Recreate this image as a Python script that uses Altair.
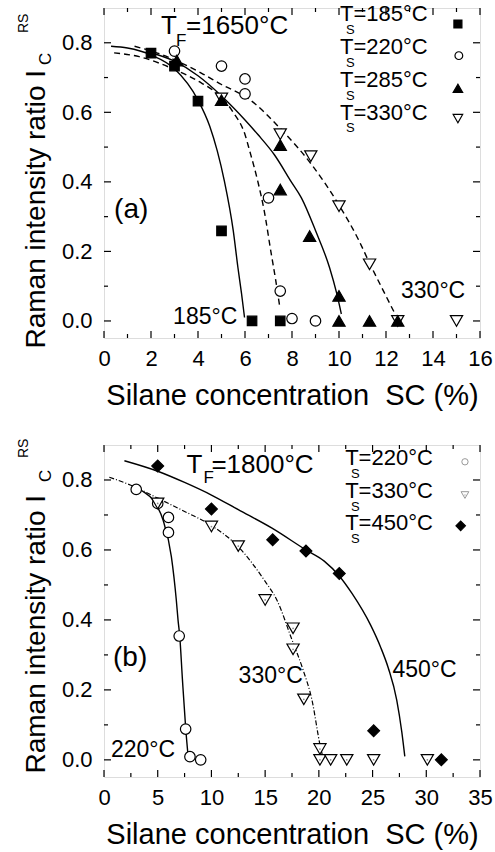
import altair as alt
import pandas as pd

FONT = "Liberation Sans"
W = 376
H_A = 330
H_B = 332

# ---------------- panel (a): T_F = 1650 °C ----------------
# measured intensity ratios per substrate temperature
a185_x = [2, 3, 4, 5, 6.3, 7.5]
a185_y = [0.770, 0.733, 0.632, 0.259, 0.0, 0.0]
a220_x = [3, 5, 6, 6, 7, 7.5, 8, 9]
a220_y = [0.776, 0.733, 0.696, 0.653, 0.354, 0.086, 0.007, 0.0]
a285_x = [3.1, 5, 7.5, 7.5, 8.75, 10, 10, 11.3, 12.5]
a285_y = [0.749, 0.635, 0.506, 0.378, 0.244, 0.072, 0.0, 0.0, 0.0]
a330_x = [5, 7.5, 8.8, 10, 11.3, 12.5, 15]
a330_y = [0.640, 0.537, 0.474, 0.330, 0.163, 0.0, 0.0]

# fitted curves (a)
fa185_x = [0.3, 1, 2, 3, 4, 4.5, 4.82, 5.13, 5.5, 5.7, 5.85, 5.98]
fa185_y = [0.790, 0.785, 0.765, 0.725, 0.635, 0.560, 0.489, 0.400, 0.260, 0.153, 0.080, 0.010]
fa220_x = [0.43, 1.5, 3, 4, 5, 5.5, 6, 6.2, 6.55, 6.82, 7.1, 7.3, 7.48]
fa220_y = [0.771, 0.760, 0.723, 0.690, 0.642, 0.600, 0.536, 0.489, 0.400, 0.316, 0.200, 0.120, 0.040]
fa285_x = [1.8, 3, 4, 5, 6, 6.55, 7.25, 7.97, 8.4, 9.0, 9.6, 9.9, 10.1]
fa285_y = [0.775, 0.747, 0.705, 0.647, 0.578, 0.536, 0.478, 0.400, 0.354, 0.260, 0.153, 0.080, 0.020]
fa330_x = [1.3, 2.5, 4.14, 5, 6.13, 7.55, 8.83, 10.03, 10.82, 11.31, 11.9, 12.5]
fa330_y = [0.790, 0.765, 0.713, 0.680, 0.640, 0.550, 0.450, 0.330, 0.235, 0.165, 0.085, 0.005]

# ---------------- panel (b): T_F = 1800 °C ----------------
b220_x = [3, 5, 6, 6, 7, 7.6, 8, 9]
b220_y = [0.773, 0.733, 0.693, 0.650, 0.354, 0.088, 0.009, 0.0]
b330_x = [5, 10, 12.5, 15, 17.6, 17.6, 18.6, 20.1, 20.1, 21.1, 22.6, 25.1, 30.1]
b330_y = [0.733, 0.667, 0.611, 0.457, 0.376, 0.316, 0.173, 0.031, 0.0, 0.0, 0.0, 0.0, 0.0]
b450_x = [5, 10, 15.7, 18.8, 21.9, 25.1, 31.4]
b450_y = [0.840, 0.717, 0.629, 0.597, 0.533, 0.083, 0.0]

# fitted curves (b)
fb220_x = [2.8, 3.5, 4.55, 5.49, 6.27, 6.73, 6.89, 7.05, 7.3, 7.61, 7.83]
fb220_y = [0.785, 0.770, 0.743, 0.686, 0.581, 0.457, 0.400, 0.354, 0.230, 0.088, 0.010]
fb330_x = [0.5, 2.5, 5, 7.5, 9.94, 12.5, 15.0, 16.09, 17.5, 18.5, 19.36, 20.14, 20.4]
fb330_y = [0.808, 0.785, 0.748, 0.710, 0.671, 0.609, 0.510, 0.457, 0.343, 0.260, 0.171, 0.038, 0.005]
fb450_x = [1.9, 5, 7.5, 10, 12.5, 15.6, 18.8, 20.5, 21.92, 23.1, 24.82, 25.75, 26.47, 27.25, 27.72, 28.0]
fb450_y = [0.855, 0.825, 0.793, 0.757, 0.715, 0.663, 0.600, 0.568, 0.525, 0.475, 0.385, 0.322, 0.262, 0.171, 0.080, 0.010]

# axis tick values
ya_major = [0, 0.2, 0.4, 0.6, 0.8]
y_minor = [0.1, 0.3, 0.5, 0.7]
xa_major = [0, 2, 4, 6, 8, 10, 12, 14, 16]
xa_minor = [1, 3, 5, 7, 9, 11, 13, 15]
xb_major = [0, 5, 10, 15, 20, 25, 30, 35]
xb_minor = [2.5, 7.5, 12.5, 17.5, 22.5, 27.5, 32.5]

X_TITLE = "Silane concentration\u00a0 SC (%)"
Y_TITLE = "Raman intensity ratio I"


def frame(xs, ys):
    return pd.DataFrame({"x": xs, "y": ys})


def x_enc(domain, values):
    axis = alt.Axis(values=values, format="d", ticks=False, domain=False, grid=False,
                    labelFlush=False, labelOverlap=False, labelFont=FONT, labelFontSize=22,
                    labelColor="black", labelPadding=10, title=X_TITLE, titleFont=FONT,
                    titleFontSize=29, titleFontWeight="normal", titleColor="black",
                    titlePadding=12)
    return alt.X("x:Q", scale=alt.Scale(domain=domain, nice=False, zero=False), axis=axis)


def y_enc(title_y):
    axis = alt.Axis(values=ya_major, format=".1f", ticks=False, domain=False, grid=False,
                    labelFont=FONT, labelFontSize=22, labelColor="black", labelPadding=12,
                    title=Y_TITLE, titleFont=FONT, titleFontSize=28, titleFontWeight="normal",
                    titleColor="black", titleAngle=270, titleAlign="left",
                    titleBaseline="alphabetic", titleX=-60, titleY=title_y)
    return alt.Y("y:Q", scale=alt.Scale(domain=[-0.049, 0.9], nice=False, zero=False), axis=axis)


def fit_line(xs, ys, X, Y, dash=None, width=1.4):
    props = dict(color="black", strokeWidth=width, interpolate="monotone", clip=True)
    if dash:
        props["strokeDash"] = dash
    return alt.Chart(frame(xs, ys)).mark_line(**props).encode(x=X, y=Y)


def symbols(xs, ys, X, Y, shape, size, fill, stroke="black", sw=1.2):
    return alt.Chart(frame(xs, ys)).mark_point(
        shape=shape, size=size, filled=True, fill=fill, stroke=stroke,
        strokeWidth=sw, opacity=1).encode(x=X, y=Y)


def label(xs, ys, texts, size, X, Y):
    df = pd.DataFrame({"x": xs, "y": ys, "t": texts})
    return alt.Chart(df).mark_text(align="left", baseline="alphabetic", font=FONT,
                                   fontSize=size, color="black").encode(x=X, y=Y, text="t:N")


def rotated(text, px, py, size):
    df = pd.DataFrame({"t": [text]})
    return alt.Chart(df).mark_text(angle=270, align="left", baseline="alphabetic", font=FONT,
                                   fontSize=size, color="black").encode(
        x=alt.value(px), y=alt.value(py), text="t:N")


def inner_ticks(X, Y, x_major, x_minor, H, major=7, minor=4):
    rule = dict(color="black", strokeWidth=1.2)
    layers = []
    for vals, L in ((x_major, major), (x_minor, minor)):
        df = pd.DataFrame({"x": vals})
        layers.append(alt.Chart(df).mark_rule(**rule).encode(x=X, y=alt.value(0), y2=alt.value(L)))
        layers.append(alt.Chart(df).mark_rule(**rule).encode(x=X, y=alt.value(H), y2=alt.value(H - L)))
    for vals, L in ((ya_major, major), (y_minor, minor)):
        df = pd.DataFrame({"y": vals})
        layers.append(alt.Chart(df).mark_rule(**rule).encode(y=Y, x=alt.value(0), x2=alt.value(L)))
        layers.append(alt.Chart(df).mark_rule(**rule).encode(y=Y, x=alt.value(W), x2=alt.value(W - L)))
    return layers


# ---------------- build panel (a) ----------------
XA = x_enc([0, 16], xa_major)
YA = y_enc(340)

layers_a = [
    fit_line(fa185_x, fa185_y, XA, YA),
    fit_line(fa220_x, fa220_y, XA, YA, dash=[6, 4]),
    fit_line(fa285_x, fa285_y, XA, YA),
    fit_line(fa330_x, fa330_y, XA, YA, dash=[6, 4]),
    symbols(a185_x, a185_y, XA, YA, "square", 90, "black"),
    symbols(a220_x, a220_y, XA, YA, "circle", 110, "white"),
    symbols(a330_x, a330_y, XA, YA, "triangle-down", 150, "white"),
    symbols(a285_x, a285_y, XA, YA, "triangle-up", 150, "black"),
]
layers_a += inner_ticks(XA, YA, xa_major, xa_minor, H_A)
layers_a += [
    # heading T_F
    label([2.43, 3.49], [0.824, 0.824], ["T", "=1650°C"], 26, XA, YA),
    label([3.06], [0.79], ["F"], 17, XA, YA),
    # legend entries
    label([10.04] * 4, [0.862, 0.767, 0.672, 0.579],
          ["T=185°C", "T=220°C", "T=285°C", "T=330°C"], 22, XA, YA),
    label([10.3] * 4, [0.825, 0.730, 0.635, 0.542], ["S"] * 4, 13, XA, YA),
    symbols([15.06], [0.854], XA, YA, "square", 64, "black"),
    symbols([15.1], [0.763], XA, YA, "circle", 60, "white"),
    symbols([15.06], [0.669], XA, YA, "triangle-up", 90, "black"),
    symbols([15.06], [0.582], XA, YA, "triangle-down", 90, "white"),
    # panel tag and curve labels
    label([0.43], [0.296], ["(a)"], 28, XA, YA),
    label([2.94, 12.64], [-0.009, 0.066], ["185°C", "330°C"], 23, XA, YA),
    # sub/superscript of the y title
    rotated("C", -53, 57, 17),
    rotated("RS", -76, 25, 14),
]
panel_a = alt.layer(*layers_a).properties(width=W, height=H_A)

# ---------------- build panel (b) ----------------
XB = x_enc([0, 35], xb_major)
YB = y_enc(328)

layers_b = [
    fit_line(fb220_x, fb220_y, XB, YB),
    fit_line(fb330_x, fb330_y, XB, YB, dash=[5, 2, 1, 2], width=1.2),
    fit_line(fb450_x, fb450_y, XB, YB),
    symbols(b220_x, b220_y, XB, YB, "circle", 110, "white"),
    symbols(b330_x, b330_y, XB, YB, "triangle-down", 150, "white"),
    symbols(b330_x, b330_y, XB, YB, "circle", 3, "#888888", stroke="#888888", sw=0),
    symbols(b450_x, b450_y, XB, YB, "diamond", 140, "black"),
]
layers_b += inner_ticks(XB, YB, xb_major, xb_minor, H_B)
layers_b += [
    label([7.67, 10.0], [0.82, 0.82], ["T", "=1800°C"], 26, XB, YB),
    label([9.26], [0.791], ["F"], 17, XB, YB),
    label([22.45] * 3, [0.843, 0.749, 0.657], ["T=220°C", "T=330°C", "T=450°C"], 22, XB, YB),
    label([23.0] * 3, [0.806, 0.711, 0.620], ["S"] * 3, 13, XB, YB),
    symbols([33.6], [0.852], XB, YB, "circle", 40, "white", stroke="#999999", sw=1),
    symbols([33.6], [0.757], XB, YB, "triangle-down", 60, "white", stroke="#999999", sw=1),
    symbols([33.6], [0.757], XB, YB, "circle", 2, "#aaaaaa", stroke="#aaaaaa", sw=0),
    symbols([33.2], [0.669], XB, YB, "diamond", 90, "black"),
    label([0.84], [0.269], ["(b)"], 28, XB, YB),
    label([12.53, 0.65, 26.85], [0.22, 0.009, 0.237], ["330°C", "220°C", "450°C"], 23, XB, YB),
    rotated("C", -53, 37, 17),
    rotated("RS", -76, 13, 14),
]
panel_b = alt.layer(*layers_b).properties(width=W, height=H_B)

chart = alt.vconcat(panel_a, panel_b, spacing=27).properties(
    padding={"left": 16, "top": 2, "right": 0, "bottom": 0}
).configure_view(stroke="black", strokeWidth=1.5).configure(font=FONT)

chart.save("out.html", embed_options={"renderer": "svg", "actions": False})
